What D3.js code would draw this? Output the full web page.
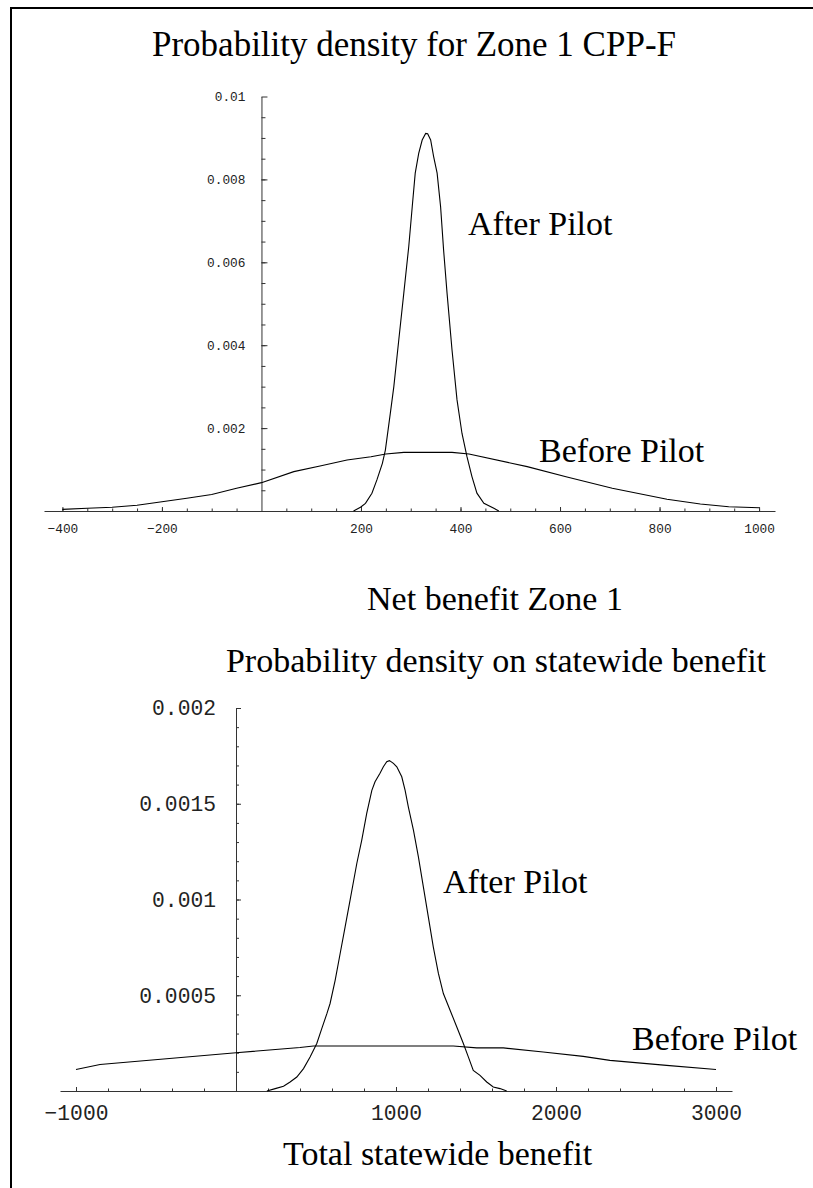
<!DOCTYPE html>
<html>
<head>
<meta charset="utf-8">
<script src="https://cdn.jsdelivr.net/npm/d3@7"></script>
<style>
  html, body { margin: 0; padding: 0; background: #fff; }
  svg { display: block; }
  .lbl { font-family: "Liberation Serif", "Times New Roman", serif; fill: #000; }
  .tick text { font-family: "Liberation Mono", "Courier New", monospace; fill: #222; }
</style>
</head>
<body>
<svg id="chart" width="813" height="1188"></svg>
<script>
// ---- Zone 1 CPP-F net benefit densities ----
const zoneBeforeX = [-400, -350, -300, -250, -200, -150, -100, -50, 0, 65, 120, 172, 220, 250, 286, 383, 417, 534, 614, 705, 815, 882, 939, 1000];
const zoneBeforeY = [0.00004, 0.000065, 0.00009, 0.000137, 0.000225, 0.000306, 0.0004, 0.00055, 0.000684, 0.00095, 0.00109, 0.00123, 0.00131, 0.001375, 0.001415, 0.001415, 0.001375, 0.00107, 0.00082, 0.000547, 0.000282, 0.00017, 0.000104, 0.00008];
const zoneAfterX = [185, 199, 209, 222, 232, 243, 249, 259, 266, 276, 286, 296, 303, 309, 316, 323, 330, 334, 340, 346, 353, 360, 366, 373, 383, 393, 403, 413, 423, 433, 447, 467, 477];
const zoneAfterY = [0, 0.00009, 0.000185, 0.00043, 0.00075, 0.00115, 0.00147, 0.00236, 0.0030, 0.00413, 0.00525, 0.00638, 0.00734, 0.00815, 0.00863, 0.00895, 0.00911, 0.0091, 0.00895, 0.00855, 0.00815, 0.00734, 0.0063, 0.00525, 0.00388, 0.00268, 0.00187, 0.00131, 0.00083, 0.00043, 0.000185, 0.000065, 0];

// ---- Statewide benefit densities ----
const stateBeforeX = [-1000, -850, 0, 400, 484, 1025, 1358, 1504, 1671, 1920, 2170, 2337, 2691, 3000];
const stateBeforeY = [0.000112, 0.000138, 0.0002, 0.000227, 0.000235, 0.000235, 0.000235, 0.000225, 0.000225, 0.000204, 0.000181, 0.00016, 0.000134, 0.000112];
const stateAfterX = [193, 245, 297, 338, 380, 422, 463, 505, 536, 568, 588, 620, 651, 682, 713, 755, 786, 817, 849, 869, 900, 921, 942, 959, 984, 1005, 1036, 1057, 1077, 1109, 1140, 1171, 1202, 1233, 1265, 1296, 1338, 1380, 1421, 1452, 1483, 1525, 1567, 1608, 1650, 1692];
const stateAfterY = [0, 0.0000125, 0.0000245, 0.000047, 0.000073, 0.000117, 0.000178, 0.000248, 0.000326, 0.000404, 0.000457, 0.000579, 0.000718, 0.000857, 0.000997, 0.001188, 0.00131, 0.00145, 0.00157, 0.001615, 0.001659, 0.001693, 0.001719, 0.001725, 0.001711, 0.001693, 0.001641, 0.00157, 0.001484, 0.001362, 0.001223, 0.001066, 0.000909, 0.000753, 0.000614, 0.000509, 0.000422, 0.000334, 0.000248, 0.000178, 0.000108, 0.000082, 0.000047, 0.000021, 0.0000125, 0];

// ---- Tick values and their labels ----
const zoneXTicks = [-400, -200, 200, 400, 600, 800, 1000];
const zoneXLabels = ["\u2212400", "\u2212200", "200", "400", "600", "800", "1000"];
const zoneYTicks = [0.002, 0.004, 0.006, 0.008, 0.01];
const zoneYLabels = ["0.002", "0.004", "0.006", "0.008", "0.01"];
const stateXTicks = [-1000, 1000, 2000, 3000];
const stateXLabels = ["\u22121000", "1000", "2000", "3000"];
const stateYTicks = [0.0005, 0.001, 0.0015, 0.002];
const stateYLabels = ["0.0005", "0.001", "0.0015", "0.002"];

// ---- Titles and curve labels ----
const zoneTitle = "Probability density for Zone 1 CPP-F";
const zoneXTitle = "Net benefit Zone 1";
const stateTitle = "Probability density on statewide benefit";
const stateXTitle = "Total statewide benefit";
const afterText = "After Pilot";
const beforeText = "Before Pilot";

const svg = d3.select("#chart");
const pairs = (xs, ys) => xs.map((x, i) => [x, ys[i]]);

// page frame
svg.append("line").attr("x1", 11).attr("x2", 11).attr("y1", 8).attr("y2", 1188)
  .attr("stroke", "#000").attr("stroke-width", 2);
svg.append("line").attr("x1", 10).attr("x2", 813).attr("y1", 8).attr("y2", 8)
  .attr("stroke", "#000").attr("stroke-width", 2);

function panel(cfg) {
  const g = svg.append("g");
  const x = d3.scaleLinear().domain(cfg.xDomain).range(cfg.xRange);
  const y = d3.scaleLinear().domain(cfg.yDomain).range(cfg.yRange);
  const x0 = x(0), y0 = y(0);

  // minor x ticks
  g.append("g").attr("transform", `translate(0,${y0})`)
    .call(d3.axisBottom(x).tickValues(cfg.xMinor).tickSizeInner(-cfg.xMinorLen).tickSizeOuter(0).tickFormat(""))
    .call(a => a.select(".domain").remove())
    .call(a => a.selectAll("line").attr("stroke", "#333"));
  // major x ticks with labels
  const xa = g.append("g").attr("transform", `translate(0,${y0})`)
    .call(d3.axisBottom(x).tickValues(cfg.xTicks).tickSizeInner(-cfg.xMajorLen).tickSizeOuter(0)
      .tickPadding(cfg.xPad).tickFormat((d, i) => cfg.xLabels[i]));
  xa.select(".domain").attr("stroke", "#333");
  xa.selectAll("line").attr("stroke", "#333");
  xa.selectAll("text").attr("font-size", cfg.tickFont).attr("dy", "0.71em");

  // minor y ticks
  g.append("g").attr("transform", `translate(${x0},0)`)
    .call(d3.axisLeft(y).tickValues(cfg.yMinor).tickSizeInner(-cfg.yMinorLen).tickSizeOuter(0).tickFormat(""))
    .call(a => a.select(".domain").remove())
    .call(a => a.selectAll("line").attr("stroke", "#333"));
  // major y ticks with labels
  const ya = g.append("g").attr("transform", `translate(${x0},0)`)
    .call(d3.axisLeft(y).tickValues(cfg.yTicks).tickSizeInner(-cfg.yMajorLen).tickSizeOuter(0)
      .tickPadding(cfg.yPad).tickFormat((d, i) => cfg.yLabels[i]));
  ya.select(".domain").attr("stroke", "#333");
  ya.selectAll("line").attr("stroke", "#333");
  ya.selectAll("text").attr("font-size", cfg.tickFont);

  const line = d3.line().x(d => x(d[0])).y(d => y(d[1]));
  g.append("path").datum(cfg.before).attr("d", line)
    .attr("fill", "none").attr("stroke", "#000").attr("stroke-width", 1.1);
  g.append("path").datum(cfg.after).attr("d", line)
    .attr("fill", "none").attr("stroke", "#000").attr("stroke-width", 1.1);

  cfg.texts.forEach(t => {
    g.append("text").attr("class", "lbl").attr("x", t.x).attr("y", t.y)
      .attr("font-size", t.size).attr("text-anchor", t.anchor || "start").text(t.text);
  });
}

const rangeTicks = (a, b, s) => d3.range(Math.round((b - a) / s) + 1).map(i => a + i * s).filter(v => Math.abs(v) > 1e-12);

panel({
  xDomain: [-437, 1032], xRange: [44, 775],
  yDomain: [0, 0.01], yRange: [511, 96.5],
  xTicks: zoneXTicks, xLabels: zoneXLabels, xMinor: rangeTicks(-400, 1000, 50),
  yTicks: zoneYTicks, yLabels: zoneYLabels, yMinor: rangeTicks(0.0005, 0.0095, 0.0005),
  xMajorLen: 4, xMinorLen: 2.5, yMajorLen: 6, yMinorLen: 4,
  xPad: 13, yPad: 16, tickFont: 12.8,
  before: pairs(zoneBeforeX, zoneBeforeY),
  after: pairs(zoneAfterX, zoneAfterY),
  texts: [
    { text: zoneTitle, x: 414, y: 56, size: 35, anchor: "middle" },
    { text: afterText, x: 468, y: 235, size: 34 },
    { text: beforeText, x: 539, y: 462, size: 34 },
    { text: zoneXTitle, x: 495, y: 610, size: 34, anchor: "middle" }
  ]
});

panel({
  xDomain: [-1100, 3100], xRange: [60, 732],
  yDomain: [0, 0.002], yRange: [1091, 708],
  xTicks: stateXTicks, xLabels: stateXLabels, xMinor: rangeTicks(-1000, 3000, 200),
  yTicks: stateYTicks, yLabels: stateYLabels, yMinor: rangeTicks(0.0001, 0.0019, 0.0001),
  xMajorLen: 4, xMinorLen: 2.5, yMajorLen: 5, yMinorLen: 3,
  xPad: 14, yPad: 20, tickFont: 21.3,
  before: pairs(stateBeforeX, stateBeforeY),
  after: pairs(stateAfterX, stateAfterY),
  texts: [
    { text: stateTitle, x: 496, y: 672, size: 34, anchor: "middle" },
    { text: afterText, x: 443, y: 893, size: 34 },
    { text: beforeText, x: 632, y: 1050, size: 34 },
    { text: stateXTitle, x: 283, y: 1165, size: 34 }
  ]
});
</script>
</body>
</html>
